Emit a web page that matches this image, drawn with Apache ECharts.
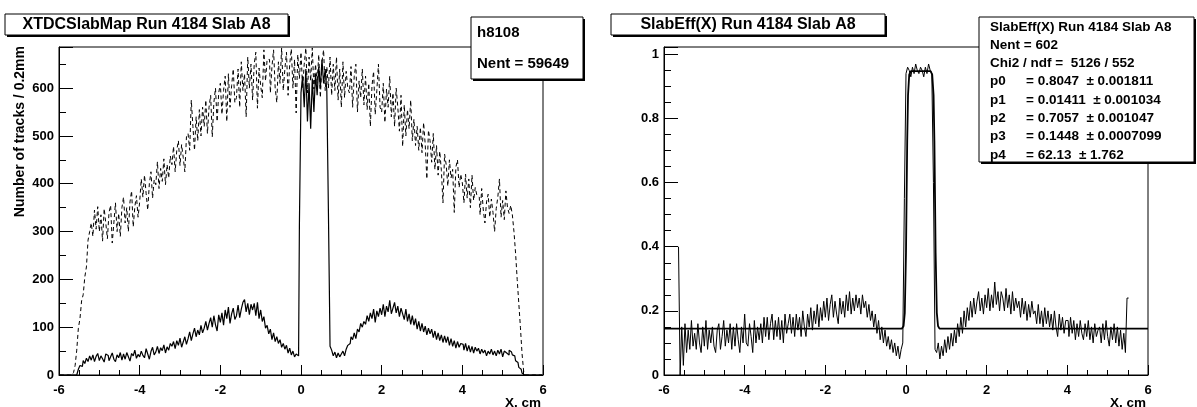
<!DOCTYPE html>
<html>
<head>
<meta charset="utf-8">
<script src="https://cdn.jsdelivr.net/npm/echarts@6/dist/echarts.min.js"></script>
<style>
html,body{margin:0;padding:0;background:#fff;}
#c{width:1197px;height:407px;}
</style>
</head>
<body>
<div id="c"></div>
<script>
// Binning of the histograms (bin width 0.04 cm from -6 to 6)
const BIN_LO = -6;
const BIN_W = 0.04;

// Left panel, dashed histogram: all tracks per bin
const allTracks = [
0,0,0,0,0,0,0,0,1,5,
20,52,98,118,155,168,205,226,282,300,
318,290,345,305,352,300,335,280,348,318,
285,340,355,276,318,360,300,338,290,350,
372,318,350,300,362,385,310,352,375,330,
362,410,372,418,380,345,400,425,370,408,
398,446,390,432,405,452,398,440,412,458,
440,478,425,470,490,438,482,455,425,498,
505,470,575,520,470,540,490,555,500,560,
520,575,505,560,585,498,570,600,530,590,
610,545,595,625,530,630,560,605,640,570,
580,640,560,655,595,630,540,665,600,650,
575,650,675,558,642,605,580,680,615,660,
660,590,645,680,600,570,655,610,684,595,
640,675,585,650,682,600,660,548,670,620,
675,600,650,684,590,665,615,684,598,650,
610,670,580,655,680,595,645,600,665,585,
650,595,665,575,640,560,655,580,635,600,
590,645,560,625,650,550,615,580,640,565,
625,555,610,520,605,635,545,595,650,560,
550,610,528,598,560,625,540,590,520,600,
560,510,585,478,565,500,555,515,575,490,
535,480,520,470,518,465,528,482,410,512,
490,445,505,430,480,418,468,428,360,462,
440,395,450,412,430,340,435,450,392,420,
402,360,420,370,410,350,418,365,392,376,
372,335,390,345,318,362,378,330,368,340,
300,348,372,410,330,365,325,385,350,338,
355,335,300,255,200,150,100,45,8,0,
0,0,0,0,0,0,0,0,0,0
];

// Left panel, solid histogram: tracks with a hit in the slab
const hitTracks = [
0,0,0,0,0,0,0,0,0,0,
0,4,12,20,18,30,24,35,28,40,
31,42,28,39,45,30,40,34,27,44,
41,30,38,46,33,28,42,36,47,31,
44,33,47,38,29,45,40,52,35,43,
38,50,41,36,55,44,33,49,58,42,
48,60,45,57,51,63,46,59,52,66,
60,70,55,72,62,77,58,69,80,64,
76,90,72,86,98,80,94,84,104,88,
98,112,94,108,120,100,124,105,92,126,
110,130,104,136,118,142,108,128,140,116,
124,146,120,138,152,158,132,150,126,148,
136,150,124,152,118,136,112,122,98,104,
86,96,74,88,70,80,66,74,58,66,
54,62,46,56,42,50,38,44,40,310,
590,625,560,640,530,610,515,620,550,630,
585,645,600,660,610,640,595,340,60,52,
40,48,36,46,38,44,50,40,54,62,
66,80,74,88,76,96,90,108,100,112,
106,124,112,130,118,138,110,134,122,140,
126,148,122,144,132,156,128,140,152,130,
144,122,140,128,116,138,112,128,106,124,
104,118,96,112,92,108,90,102,84,98,
86,96,78,92,74,88,72,84,68,82,
68,80,62,76,60,72,56,70,58,66,
64,52,66,50,62,48,60,46,58,50,
56,44,54,46,52,40,50,44,54,42,
50,40,52,44,54,38,50,46,42,52,
48,42,40,30,26,16,12,4,0,0,
0,0,0,0,0,0,0,0,0,0
];

// Right panel: slab efficiency per bin (null = empty bin)
const efficiency = [
null,null,null,null,null,null,null,null,null,0.40,
0.00,0.15,0.03,0.16,0.07,0.14,0.08,0.17,0.09,0.13,
0.08,0.16,0.10,0.07,0.15,0.09,0.17,0.08,0.14,0.10,
0.15,0.09,0.07,0.14,0.16,0.08,0.12,0.17,0.09,0.14,
0.10,0.16,0.08,0.15,0.09,0.16,0.11,0.07,0.15,0.10,
0.19,0.10,0.09,0.16,0.12,0.07,0.17,0.10,0.15,0.11,
0.16,0.10,0.18,0.12,0.18,0.11,0.16,0.19,0.11,0.17,
0.12,0.18,0.11,0.17,0.10,0.19,0.13,0.16,0.19,0.13,
0.18,0.12,0.19,0.14,0.18,0.12,0.20,0.15,0.12,0.19,
0.15,0.21,0.14,0.20,0.16,0.22,0.15,0.21,0.17,0.23,
0.18,0.24,0.17,0.22,0.25,0.18,0.23,0.19,0.16,0.24,
0.19,0.23,0.18,0.25,0.20,0.26,0.19,0.24,0.20,0.25,
0.21,0.24,0.19,0.25,0.21,0.23,0.18,0.22,0.17,0.20,
0.15,0.19,0.13,0.17,0.11,0.15,0.10,0.14,0.09,0.12,
0.08,0.11,0.07,0.10,0.06,0.09,0.05,0.08,0.10,0.55,
0.94,0.96,0.95,0.93,0.96,0.94,0.97,0.95,0.94,0.96,
0.95,0.93,0.96,0.94,0.97,0.95,0.94,0.60,0.08,0.07,
0.10,0.05,0.09,0.06,0.11,0.07,0.12,0.08,0.13,0.09,
0.14,0.10,0.16,0.12,0.18,0.13,0.20,0.15,0.21,0.17,
0.23,0.18,0.24,0.19,0.23,0.26,0.20,0.24,0.19,0.25,
0.21,0.27,0.20,0.25,0.21,0.29,0.22,0.26,0.20,0.26,
0.24,0.20,0.27,0.21,0.25,0.19,0.26,0.20,0.24,0.21,
0.23,0.18,0.24,0.19,0.23,0.17,0.22,0.18,0.23,0.19,
0.20,0.16,0.22,0.16,0.20,0.15,0.21,0.16,0.20,0.15,
0.19,0.14,0.20,0.15,0.12,0.19,0.14,0.18,0.13,0.17,
0.17,0.12,0.18,0.13,0.17,0.11,0.16,0.12,0.17,0.13,
0.11,0.16,0.12,0.17,0.11,0.15,0.10,0.16,0.12,0.14,
0.15,0.10,0.16,0.11,0.17,0.12,0.09,0.15,0.11,0.16,
0.10,0.15,0.09,0.14,0.08,0.13,0.07,0.24,null,null,
null,null,null,null,null,null,null,null,null,null
];

// Right panel: fitted curve
const fitX = [-6, -0.1, -0.06, -0.03, 0.00, 0.014, 0.03, 0.05, 0.08, 0.12, 0.61, 0.65, 0.684, 0.704, 0.72, 0.734, 0.764, 0.794, 0.83, 6];
const fitY = [0.1448, 0.1448, 0.153, 0.194, 0.383, 0.547, 0.73, 0.872, 0.937, 0.948, 0.948, 0.937, 0.872, 0.73, 0.547, 0.383, 0.194, 0.153, 0.1448, 0.1448];

// Axis tick labels
const xTicks = [-6, -4, -2, 0, 2, 4, 6];
const yTicksLeft = [0, 100, 200, 300, 400, 500, 600];
const yTicksRight = [0, 0.2, 0.4, 0.6, 0.8, 1];

// Texts
const leftTitle = 'XTDCSlabMap Run 4184 Slab A8';
const rightTitle = 'SlabEff(X) Run 4184 Slab A8';
const leftStats = ['h8108', 'Nent = 59649'];
const rightStatsHead = ['SlabEff(X) Run 4184 Slab A8', 'Nent = 602', 'Chi2 / ndf =  5126 / 552'];
const parNames = ['p0', 'p1', 'p2', 'p3', 'p4'];
const parValues = ['0.8047', '0.01411', '0.7057', '0.1448', '62.13'];
const parErrors = ['0.001811', '0.001034', '0.001047', '0.0007099', '1.762'];

function toPairs(vals) {
  return vals.map((v, i) => [+(BIN_LO + BIN_W * (i + 0.5)).toFixed(2), v]);
}

const FONT = 'Liberation Sans, Arial, Helvetica, sans-serif';
const chart = echarts.init(document.getElementById('c'), null, {renderer: 'canvas'});

function xAxisCfg(gi) {
  return {
    gridIndex: gi, type: 'value', min: xTicks[0], max: xTicks[xTicks.length - 1], interval: 2,
    axisLine: {show: true, onZero: false, lineStyle: {color: '#000', width: 1}},
    axisTick: {show: true, inside: true, length: 10, lineStyle: {color: '#000'}},
    minorTick: {show: true, splitNumber: 4, length: 5, lineStyle: {color: '#000'}},
    splitLine: {show: false},
    axisLabel: {color: '#000', fontFamily: FONT, fontWeight: 'bold', fontSize: 13, margin: 9,
      formatter: v => xTicks.indexOf(v) >= 0 ? String(v) : ''}
  };
}
function yAxisCfg(gi, max, interval, minorSplit, ticks) {
  return {
    gridIndex: gi, type: 'value', min: 0, max: max, interval: interval,
    axisLine: {show: true, onZero: false, lineStyle: {color: '#000', width: 1}},
    axisTick: {show: true, inside: true, length: 14, lineStyle: {color: '#000'}},
    minorTick: {show: true, splitNumber: minorSplit, length: 7, lineStyle: {color: '#000'}},
    splitLine: {show: false},
    axisLabel: {color: '#000', fontFamily: FONT, fontWeight: 'bold', fontSize: 13, margin: 5,
      showMaxLabel: false,
      formatter: v => {
        const r = Math.round(v * 1000) / 1000;
        return ticks.indexOf(r) >= 0 ? String(r) : '';
      }}
  };
}

function pave(x, y, w, h) {
  return [
    {type: 'rect', shape: {x: x + 2, y: y + 2, width: w, height: h}, style: {fill: '#000'}, z: 100},
    {type: 'rect', shape: {x: x, y: y, width: w, height: h}, style: {fill: '#fff', stroke: '#000', lineWidth: 1}, z: 101}
  ];
}
function txt(x, y, s, size, align, extra) {
  return Object.assign({type: 'text', x: x, y: y, z: 102,
    style: {text: s, fill: '#000', font: 'bold ' + size + 'px ' + FONT, textAlign: align || 'left', textVerticalAlign: 'middle'}}, extra || {});
}

const graphics = [];
// left title
graphics.push(...pave(5, 14, 283, 21));
graphics.push(txt(146.5, 25, leftTitle, 16, 'center'));
// right title
graphics.push(...pave(611, 14, 274, 21));
graphics.push(txt(748, 25, rightTitle, 16, 'center'));
// left stats
graphics.push(...pave(471, 17, 112, 62));
graphics.push(txt(477, 33, leftStats[0], 15));
graphics.push(txt(477, 64, leftStats[1], 15));
// right stats
graphics.push(...pave(979, 17, 215, 145));
const rowY = [27, 45, 63.3, 81.7, 100, 118.3, 136.7, 155];
rightStatsHead.forEach((s, i) => graphics.push(txt(990, rowY[i], s, 13.5)));
parNames.forEach((n, i) => {
  graphics.push(txt(990, rowY[3 + i], n, 13.5));
  graphics.push(txt(1026, rowY[3 + i], '= ' + parValues[i] + '  \u00b1 ' + parErrors[i], 13.5));
});
// axis titles
graphics.push(txt(541, 403, 'X, cm', 13.5, 'right'));
graphics.push(txt(1146, 403, 'X, cm', 13.5, 'right'));
graphics.push({type: 'text', x: 20, y: 46, rotation: Math.PI / 2, z: 102,
  style: {text: 'Number of tracks / 0.2mm', fill: '#000', font: 'bold 14px ' + FONT, textAlign: 'right', textVerticalAlign: 'middle'}});

const option = {
  animation: false,
  backgroundColor: '#fff',
  grid: [
    {left: 59, top: 47, width: 484, height: 328, show: true, borderColor: '#000', borderWidth: 1, backgroundColor: 'transparent'},
    {left: 664, top: 47, width: 484, height: 328, show: true, borderColor: '#000', borderWidth: 1, backgroundColor: 'transparent'}
  ],
  xAxis: [xAxisCfg(0), xAxisCfg(1)],
  yAxis: [yAxisCfg(0, 686, 100, 2, yTicksLeft), yAxisCfg(1, 1.023, 0.2, 4, yTicksRight)],
  series: [
    {type: 'line', xAxisIndex: 0, yAxisIndex: 0, data: toPairs(allTracks), step: 'middle', symbol: 'none',
      lineStyle: {color: '#000', width: 1, type: [4, 3]}, silent: true},
    {type: 'line', xAxisIndex: 0, yAxisIndex: 0, data: toPairs(hitTracks), step: 'middle', symbol: 'none',
      lineStyle: {color: '#000', width: 1.2}, silent: true},
    {type: 'line', xAxisIndex: 1, yAxisIndex: 1, data: toPairs(efficiency), step: 'middle', symbol: 'none',
      connectNulls: false, lineStyle: {color: '#000', width: 1}, silent: true},
    {type: 'line', xAxisIndex: 1, yAxisIndex: 1, data: fitX.map((x, i) => [x, fitY[i]]), symbol: 'none', smooth: false,
      lineStyle: {color: '#000', width: 1.8}, silent: true}
  ],
  graphic: graphics
};
chart.setOption(option);
</script>
</body>
</html>
